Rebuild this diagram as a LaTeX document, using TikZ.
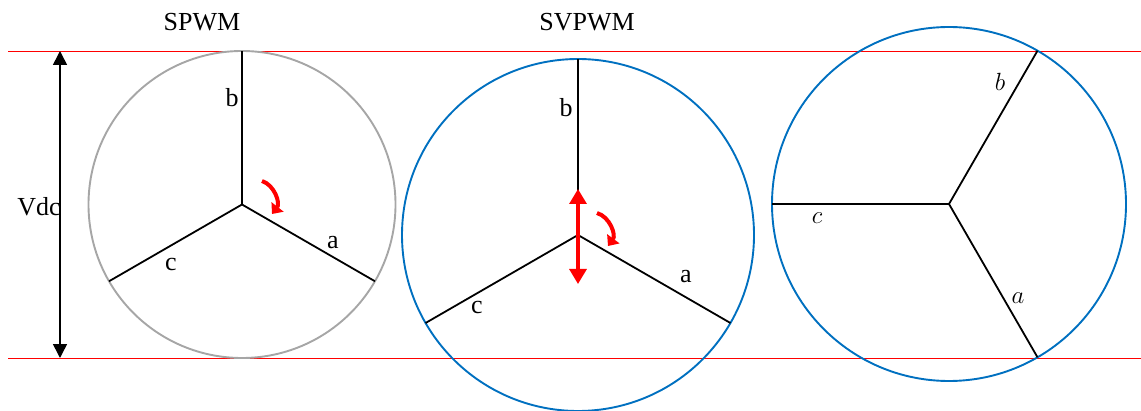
\documentclass[tikz,border=0pt]{standalone}
\usepackage{fontspec}
\setmainfont{Liberation Serif}
\usetikzlibrary{arrows.meta,calc}
\definecolor{pwmgray}{HTML}{A6A6A6}
\definecolor{pwmblue}{HTML}{0070C0}
\definecolor{pwmred}{HTML}{FF0000}
\begin{document}
\begin{tikzpicture}[x=1pt,y=1pt,
  lbl/.style={font=\fontsize{26}{30}\selectfont,inner sep=0pt},
  phase/.style={line width=1.8pt,black},
  rim/.style={line width=1.9pt},
  rail/.style={pwmred,line width=0.8pt},
  spin/.style={pwmred,line width=4pt,-{Triangle[length=9pt,width=15pt]}},
  >={Triangle[length=14pt,width=14pt]}]
\useasboundingbox (0,0) rectangle (1141,410);
% dc rails
\coordinate (railTL) at (8,359);
\coordinate (railTR) at (1141,359);
\coordinate (railBL) at (8,52);
\coordinate (railBR) at (1141,52);
\draw[rail] (railTL) -- (railTR);
\draw[rail] (railBL) -- (railBR);
\coordinate (vtop) at (60,359);
\coordinate (vbot) at (60,52);
\draw[<->,line width=1.6pt] (vbot) -- (vtop);
\node[lbl] (vdc) at (39,203) {Vdc};
% SPWM
\coordinate (o1) at (242,205.5);
\draw[rim,pwmgray] (o1) circle[radius=153.5];
\coordinate (a1) at ($(o1)+(-30:153.5)$);
\coordinate (b1) at ($(o1)+(90:153.5)$);
\coordinate (c1) at ($(o1)+(210:153.5)$);
\draw[phase] (o1) -- (a1);
\draw[phase] (o1) -- (b1);
\draw[phase] (o1) -- (c1);
\node[lbl] (t1) at (202,388) {SPWM};
\node[lbl] (la1) at (333,167) {a};
\node[lbl] (lb1) at (232,312) {b};
\node[lbl] (lc1) at (171,145) {c};
\coordinate (s1) at (262,229);
\coordinate (e1) at (272,196);
\draw[spin] (s1) to[bend left=55] (e1);
% SVPWM
\coordinate (o2) at (578,175);
\draw[rim,pwmblue] (o2) circle[radius=176];
\coordinate (a2) at ($(o2)+(-30:176)$);
\coordinate (b2) at ($(o2)+(90:176)$);
\coordinate (c2) at ($(o2)+(210:176)$);
\draw[phase] (o2) -- (a2);
\draw[phase] (o2) -- (b2);
\draw[phase] (o2) -- (c2);
\node[lbl] (t2) at (587,388) {SVPWM};
\node[lbl] (la2) at (686,133) {a};
\node[lbl] (lb2) at (566,302) {b};
\node[lbl] (lc2) at (477,102) {c};
\coordinate (up2) at (578,221);
\coordinate (dn2) at (578,126);
\draw[pwmred,line width=3.2pt,{Triangle[length=15pt,width=17pt]}-{Triangle[length=15pt,width=17pt]}] (dn2) -- (up2);
\coordinate (s2) at (597,197);
\coordinate (e2) at (608,164);
\draw[spin] (s2) to[bend left=55] (e2);
% rotated
\coordinate (o3) at (949,206);
\draw[rim,pwmblue] (o3) circle[radius=177];
\coordinate (a3) at ($(o3)+(-60:177)$);
\coordinate (b3) at ($(o3)+(60:177)$);
\coordinate (c3) at ($(o3)+(180:177)$);
\draw[phase] (o3) -- (a3);
\draw[phase] (o3) -- (b3);
\draw[phase] (o3) -- (c3);
\node[lbl] (la3) at (1018,112) {$a$};
\node[lbl] (lb3) at (1000,328) {$b$};
\node[lbl] (lc3) at (817,192) {$c$};
\end{tikzpicture}
\end{document}
